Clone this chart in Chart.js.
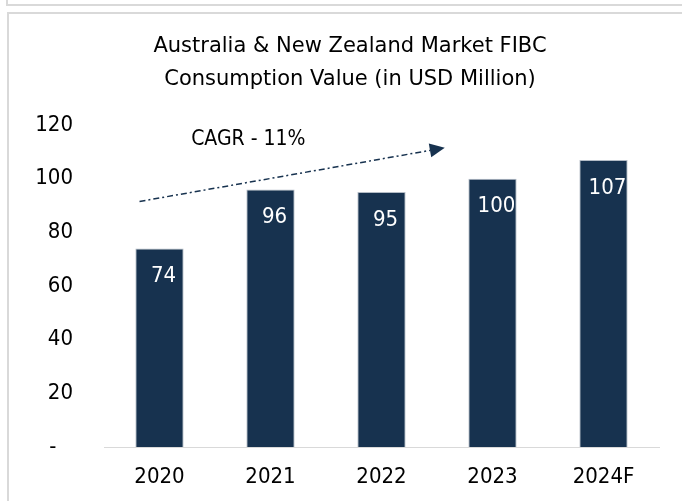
<!DOCTYPE html>
<html>
<head>
<meta charset="utf-8">
<title>FIBC Consumption Value</title>
<script src="https://cdn.jsdelivr.net/npm/chart.js@4.4.1/dist/chart.umd.min.js"></script>
<style>
  html, body { margin: 0; padding: 0; background: #fff; }
  .wrap { position: relative; width: 682px; height: 501px; overflow: hidden; }
  .frame { position: absolute; box-sizing: border-box; border: 2px solid #d9d9d9; }
  .frame.prev { left: 6px; top: -10px; width: 700px; height: 16px; }
  .frame.main { left: 7px; top: 12px; width: 700px; height: 520px; }
  canvas { position: absolute; left: 0; top: 0; }
</style>
</head>
<body>
<div class="wrap">
  <div class="frame prev"></div>
  <div class="frame main"></div>
  <canvas id="fibcChart" width="682" height="501"></canvas>
</div>
<script>
// chart data
const years = ['2020', '2021', '2022', '2023', '2024F'];
const values = [74, 96, 95, 100, 107];
const yTicks = [0, 20, 40, 60, 80, 100, 120];
const titleLines = ['Australia & New Zealand Market FIBC', 'Consumption Value (in USD Million)'];
const cagrLabel = 'CAGR - 11%';
// CAGR arrow anchors in data space: [category index, value]
const cagrFrom = [-0.18, 91.5];
const cagrTo = [2.57, 111.5];
const cagrTextAt = [0.8, 114.5];

const FONT = '"DejaVu Sans Condensed", "Open Sans", sans-serif';
const TITLE_FONT = '"DejaVu Sans", sans-serif';
const NAVY = '#17324f';

// two-line title, centred on the chart frame rather than the canvas
const frameTitle = {
  id: 'frameTitle',
  afterDraw(chart) {
    const ctx = chart.ctx;
    ctx.save();
    ctx.font = '21px ' + TITLE_FONT;
    ctx.fillStyle = '#000';
    ctx.textAlign = 'center';
    ctx.textBaseline = 'middle';
    titleLines.forEach((line, i) => ctx.fillText(line, 350, 47 + i * 33));
    ctx.restore();
  }
};

// white value labels inside the top of each bar
const barLabels = {
  id: 'barLabels',
  afterDatasetsDraw(chart) {
    const ctx = chart.ctx;
    const meta = chart.getDatasetMeta(0);
    ctx.save();
    ctx.font = '22px ' + FONT;
    ctx.fillStyle = '#fff';
    ctx.textAlign = 'center';
    ctx.textBaseline = 'middle';
    meta.data.forEach((bar, i) => {
      ctx.fillText(String(values[i]), bar.x + 4, bar.y + 28);
    });
    ctx.restore();
  }
};

// dash-dot CAGR arrow with its label
const cagrArrow = {
  id: 'cagrArrow',
  afterDatasetsDraw(chart) {
    const ctx = chart.ctx;
    const xs = chart.scales.x, ys = chart.scales.y;
    const x1 = xs.getPixelForValue(cagrFrom[0]), y1 = ys.getPixelForValue(cagrFrom[1]);
    const x2 = xs.getPixelForValue(cagrTo[0]), y2 = ys.getPixelForValue(cagrTo[1]);
    const ang = Math.atan2(y2 - y1, x2 - x1);
    const head = 15, half = 7;
    const bx = x2 - head * Math.cos(ang), by = y2 - head * Math.sin(ang);

    ctx.save();
    ctx.strokeStyle = NAVY;
    ctx.fillStyle = NAVY;
    ctx.lineWidth = 1.5;
    ctx.setLineDash([6, 3, 2, 3]);
    ctx.beginPath();
    ctx.moveTo(x1, y1);
    ctx.lineTo(bx, by);
    ctx.stroke();
    ctx.setLineDash([]);
    ctx.beginPath();
    ctx.moveTo(x2, y2);
    ctx.lineTo(bx + half * Math.sin(ang), by - half * Math.cos(ang));
    ctx.lineTo(bx - half * Math.sin(ang), by + half * Math.cos(ang));
    ctx.closePath();
    ctx.fill();

    ctx.font = '21px ' + FONT;
    ctx.fillStyle = '#000';
    ctx.textAlign = 'center';
    ctx.textBaseline = 'middle';
    ctx.fillText(cagrLabel, xs.getPixelForValue(cagrTextAt[0]), ys.getPixelForValue(cagrTextAt[1]));
    ctx.restore();
  }
};

new Chart(document.getElementById('fibcChart'), {
  type: 'bar',
  data: {
    labels: years,
    datasets: [{
      data: values,
      backgroundColor: NAVY,
      borderColor: '#b4bcc6',
      borderWidth: 1,
      categoryPercentage: 1,
      barPercentage: 0.435
    }]
  },
  options: {
    responsive: false,
    animation: false,
    layout: { padding: { top: 125, right: 23, bottom: 0, left: 0 } },
    plugins: {
      legend: { display: false },
      tooltip: { enabled: false },
      title: { display: false }
    },
    scales: {
      x: {
        grid: { display: false, drawTicks: false },
        border: { display: true, color: '#d9d9d9', width: 1 },
        ticks: { color: '#000', font: { family: FONT, size: 22 }, padding: 17 },
        afterFit(s) { s.height = 54; }
      },
      y: {
        min: 0,
        max: 120,
        grid: { display: false, drawTicks: false },
        border: { display: false },
        afterBuildTicks(s) { s.ticks = yTicks.map(v => ({ value: v })); },
        ticks: {
          color: '#000',
          font: { family: FONT, size: 22 },
          padding: 31,
          callback: v => (v === 0 ? '-  \u2009' : v)
        },
        afterFit(s) { s.width = 104; }
      }
    }
  },
  plugins: [frameTitle, barLabels, cagrArrow]
});
</script>
</body>
</html>
